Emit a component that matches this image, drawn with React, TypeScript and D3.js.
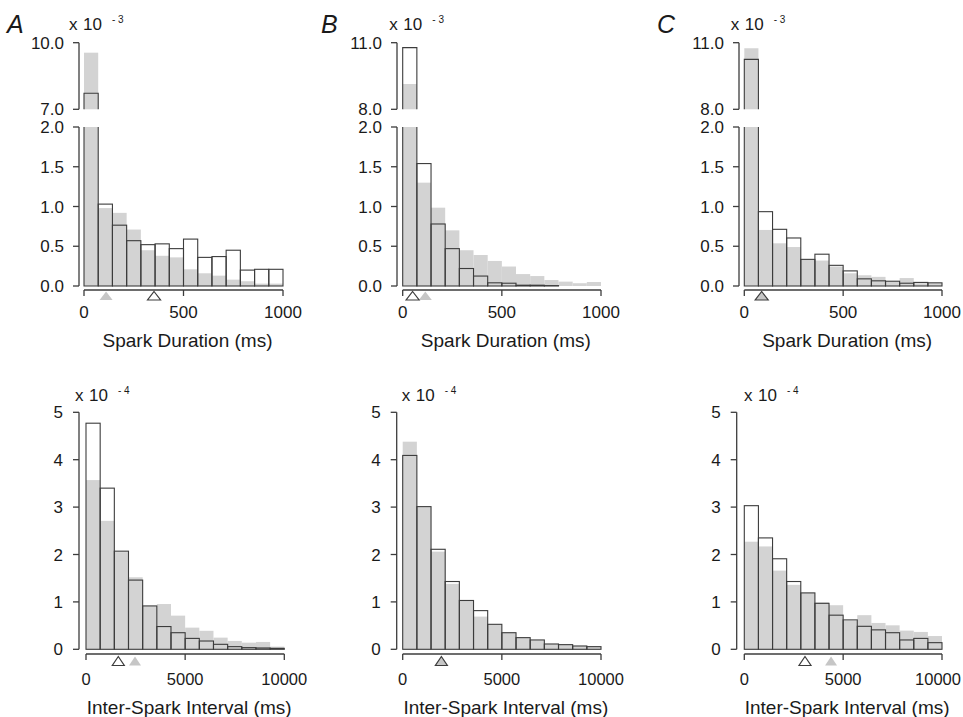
import React from "react";
import * as d3 from "d3";

// ---------- data ----------
const panelLetters = ["A", "B", "C"];
const binCount = 14;

// Spark duration histograms (x 10^-3), open = outlined bars, gray = filled bars
const durA_open = [7.72, 1.03, 0.765, 0.57, 0.52, 0.53, 0.47, 0.59, 0.36, 0.37, 0.45, 0.2, 0.21, 0.21];
const durA_gray = [9.55, 0.98, 0.92, 0.71, 0.45, 0.38, 0.36, 0.21, 0.16, 0.13, 0.08, 0.06, 0.03, 0.03];
const durB_open = [10.78, 1.54, 0.78, 0.47, 0.22, 0.125, 0.04, 0.035, 0.01, 0.01, 0.005, 0, 0, 0];
const durB_gray = [9.14, 1.3, 0.985, 0.7, 0.45, 0.39, 0.315, 0.245, 0.15, 0.125, 0.075, 0.055, 0.035, 0.05];
const durC_open = [10.25, 0.935, 0.713, 0.604, 0.335, 0.4, 0.26, 0.19, 0.09, 0.065, 0.06, 0.035, 0.045, 0.04];
const durC_gray = [10.75, 0.705, 0.537, 0.49, 0.33, 0.32, 0.245, 0.16, 0.135, 0.115, 0.055, 0.1, 0.035, 0.035];

// Inter-spark interval histograms (x 10^-4)
const isiA_open = [4.77, 3.4, 2.07, 1.46, 0.915, 0.48, 0.35, 0.23, 0.175, 0.105, 0.056, 0.035, 0.028, 0.02];
const isiA_gray = [3.57, 2.71, 2.05, 1.52, 0.91, 0.955, 0.71, 0.457, 0.39, 0.246, 0.176, 0.14, 0.155, 0.056];
const isiB_open = [4.09, 3.01, 2.11, 1.43, 1.03, 0.816, 0.527, 0.35, 0.246, 0.197, 0.112, 0.098, 0.07, 0.056];
const isiB_gray = [4.38, 3.0, 2.06, 1.38, 1.02, 0.69, 0.52, 0.35, 0.24, 0.19, 0.11, 0.1, 0.07, 0.05];
const isiC_open = [3.03, 2.35, 1.91, 1.43, 1.19, 0.97, 0.72, 0.62, 0.485, 0.41, 0.35, 0.197, 0.23, 0.14];
const isiC_gray = [2.27, 2.17, 1.66, 1.36, 1.19, 0.99, 0.93, 0.6, 0.72, 0.556, 0.506, 0.394, 0.366, 0.28];

// means (triangles)
const durMeanOpen = [352, 50, 88];
const durMeanGray = [111, 114, 88];
const isiMeanOpen = [1629, 1950, 3070];
const isiMeanGray = [2471, 1950, 4388];

// axis ticks
const durXTicks = [0, 500, 1000];
const isiXTicks = [0, 5000, 10000];
const durLowTicks = [0, 0.5, 1.0, 1.5, 2.0];
const durBreakLow = [7.0, 8.0, 8.0];
const durBreakHigh = [10.0, 11.0, 11.0];
const isiYTicks = [0, 1, 2, 3, 4, 5];

const durOpen = [durA_open, durB_open, durC_open];
const durGray = [durA_gray, durB_gray, durC_gray];
const isiOpen = [isiA_open, isiB_open, isiC_open];
const isiGray = [isiA_gray, isiB_gray, isiC_gray];

// ---------- layout ----------
const FONT = "'Liberation Sans', Arial, Helvetica, sans-serif";
const GRAY = "#d3d3d3";
const TRI_GRAY = "#c6c6c6";
const STROKE = "#3c3c3c";
const TEXT = "#1a1a1a";
const WIDTH = 963;

const topAxisX = [79, 397, 739];
const topX0 = [84, 402.7, 744.3];
const topX1 = [283, 601, 942];
const botAxisX = [79, 396.7, 736.7];
const botX0 = [86, 402.7, 744.3];
const botX1 = [284.3, 601, 942];
const topExpX = [69, 389.3, 730.7];
const botExpX = [75, 401.7, 744];
const letterX = [7, 321, 657];

function fmt1(v: number) {
  return v.toFixed(1);
}

function Triangle({ cx, apex, h, w, filled }: { cx: number; apex: number; h: number; w: number; filled: boolean }) {
  const p = `M${cx},${apex} L${cx + w / 2},${apex + h} L${cx - w / 2},${apex + h} Z`;
  return filled ? (
    <path d={p} fill={TRI_GRAY} stroke="none" />
  ) : (
    <path d={p} fill="none" stroke={STROKE} strokeWidth={1.2} />
  );
}

function Exponent({ x, y, exp }: { x: number; y: number; exp: string }) {
  return (
    <text x={x} y={y} fontFamily={FONT} fill={TEXT} fontSize={17}>
      <tspan x={x}>x</tspan>
      <tspan x={x + 14}>10</tspan>
      <tspan x={x + 43} dy={-7} fontSize={10}>{"- " + exp}</tspan>
    </text>
  );
}

function DurationPanel({ i }: { i: number }) {
  const x = d3.scaleLinear().domain([0, 1000]).range([topX0[i], topX1[i]]);
  const yLow = d3.scaleLinear().domain([0, 2]).range([286, 127]);
  const yHigh = d3.scaleLinear().domain([durBreakLow[i], durBreakHigh[i]]).range([109.3, 42.7]);
  const bw = 1000 / binCount;
  const ax = topAxisX[i];
  const lo = durBreakLow[i];

  const grayBars: React.ReactNode[] = [];
  const openBars: React.ReactNode[] = [];
  durGray[i].forEach((v, k) => {
    const xa = x(k * bw);
    const xb = x((k + 1) * bw);
    if (v <= 2) {
      grayBars.push(<rect key={"g" + k} x={xa} y={yLow(v)} width={xb - xa} height={yLow(0) - yLow(v)} fill={GRAY} />);
    } else {
      grayBars.push(<rect key={"g" + k} x={xa} y={yLow(2)} width={xb - xa} height={yLow(0) - yLow(2)} fill={GRAY} />);
      if (v > lo)
        grayBars.push(<rect key={"gh" + k} x={xa} y={yHigh(v)} width={xb - xa} height={yHigh(lo) - yHigh(v)} fill={GRAY} />);
    }
  });
  durOpen[i].forEach((v, k) => {
    const xa = x(k * bw);
    const xb = x((k + 1) * bw);
    if (v <= 2) {
      openBars.push(
        <rect key={"o" + k} x={xa} y={yLow(v)} width={xb - xa} height={yLow(0) - yLow(v)} fill="none" stroke={STROKE} strokeWidth={1.1} />
      );
    } else {
      openBars.push(
        <path key={"o" + k} d={`M${xa},${yLow(2)} V${yLow(0)} H${xb} V${yLow(2)}`} fill="none" stroke={STROKE} strokeWidth={1.1} />
      );
      if (v > lo)
        openBars.push(
          <path key={"oh" + k} d={`M${xa},${yHigh(lo)} V${yHigh(v)} H${xb} V${yHigh(lo)}`} fill="none" stroke={STROKE} strokeWidth={1.1} />
        );
    }
  });

  const axisY = 290;
  const midX = (topX0[i] + topX1[i]) / 2;
  return (
    <g>
      <text x={letterX[i]} y={33} fontFamily={FONT} fontStyle="italic" fontSize={25} fill={TEXT}>
        {panelLetters[i]}
      </text>
      <Exponent x={topExpX[i]} y={29.5} exp="3" />
      {grayBars}
      {openBars}
      <path d={`M${ax},${yLow(2)} V${yLow(0)}`} stroke={STROKE} strokeWidth={1.3} fill="none" />
      {durLowTicks.map((t) => (
        <g key={"yl" + t}>
          <line x1={ax - 6} x2={ax} y1={yLow(t)} y2={yLow(t)} stroke={STROKE} strokeWidth={1.3} />
          <text x={ax - 15} y={yLow(t)} dy="0.36em" textAnchor="end" fontFamily={FONT} fontSize={17} fill={TEXT}>
            {fmt1(t)}
          </text>
        </g>
      ))}
      <path d={`M${ax},${yHigh(durBreakHigh[i])} V${yHigh(lo)}`} stroke={STROKE} strokeWidth={1.3} fill="none" />
      {[lo, durBreakHigh[i]].map((t) => (
        <g key={"yh" + t}>
          <line x1={ax - 6} x2={ax} y1={yHigh(t)} y2={yHigh(t)} stroke={STROKE} strokeWidth={1.3} />
          <text x={ax - 15} y={yHigh(t)} dy="0.36em" textAnchor="end" fontFamily={FONT} fontSize={17} fill={TEXT}>
            {fmt1(t)}
          </text>
        </g>
      ))}
      <path d={`M${x(0)},${axisY} H${x(1000)}`} stroke={STROKE} strokeWidth={1.3} fill="none" />
      {durXTicks.map((t) => (
        <g key={"xt" + t}>
          <line x1={x(t)} x2={x(t)} y1={axisY} y2={axisY + 6} stroke={STROKE} strokeWidth={1.3} />
          <text x={Math.min(x(t), WIDTH - 20)} y={318} textAnchor="middle" fontFamily={FONT} fontSize={17} fill={TEXT}>
            {t}
          </text>
        </g>
      ))}
      <Triangle cx={x(durMeanGray[i])} apex={291.5} h={8.5} w={13} filled={true} />
      <Triangle cx={x(durMeanOpen[i])} apex={291.5} h={8.5} w={13} filled={false} />
      <text x={midX + 4} y={347} textAnchor="middle" fontFamily={FONT} fontSize={19} fill={TEXT}>
        Spark Duration (ms)
      </text>
    </g>
  );
}

function IsiPanel({ i }: { i: number }) {
  const x = d3.scaleLinear().domain([0, 10000]).range([botX0[i], botX1[i]]);
  const y = d3.scaleLinear().domain([0, 5]).range([649.3, 412.3]);
  const bw = 10000 / binCount;
  const ax = botAxisX[i];
  const axisY = 654;
  const midX = (botX0[i] + botX1[i]) / 2;
  return (
    <g>
      <Exponent x={botExpX[i]} y={401} exp="4" />
      {isiGray[i].map((v, k) => (
        <rect key={"g" + k} x={x(k * bw)} y={y(v)} width={x((k + 1) * bw) - x(k * bw)} height={y(0) - y(v)} fill={GRAY} />
      ))}
      {isiOpen[i].map((v, k) => (
        <rect
          key={"o" + k}
          x={x(k * bw)}
          y={y(v)}
          width={x((k + 1) * bw) - x(k * bw)}
          height={y(0) - y(v)}
          fill="none"
          stroke={STROKE}
          strokeWidth={1.1}
        />
      ))}
      <path d={`M${ax},${y(5)} V${y(0)}`} stroke={STROKE} strokeWidth={1.3} fill="none" />
      {isiYTicks.map((t) => (
        <g key={"y" + t}>
          <line x1={ax - 6} x2={ax} y1={y(t)} y2={y(t)} stroke={STROKE} strokeWidth={1.3} />
          <text x={ax - 16} y={y(t)} dy="0.36em" textAnchor="end" fontFamily={FONT} fontSize={17} fill={TEXT}>
            {t}
          </text>
        </g>
      ))}
      <path d={`M${x(0)},${axisY} H${x(10000)}`} stroke={STROKE} strokeWidth={1.3} fill="none" />
      {isiXTicks.map((t) => (
        <g key={"xt" + t}>
          <line x1={x(t)} x2={x(t)} y1={axisY} y2={axisY + 6} stroke={STROKE} strokeWidth={1.3} />
          <text x={Math.min(x(t), WIDTH - 25)} y={685} textAnchor="middle" fontFamily={FONT} fontSize={16.5} fill={TEXT}>
            {t}
          </text>
        </g>
      ))}
      <Triangle cx={x(isiMeanGray[i])} apex={656.5} h={9} w={12} filled={true} />
      <Triangle cx={x(isiMeanOpen[i])} apex={656.5} h={9} w={12} filled={false} />
      <text x={midX + 4} y={714} textAnchor="middle" fontFamily={FONT} fontSize={19} fill={TEXT}>
        Inter-Spark Interval (ms)
      </text>
    </g>
  );
}

export default function App() {
  return (
    <svg
      width={WIDTH}
      height={717}
      viewBox="0 0 963 717"
      style={{ position: "absolute", left: 0, top: 0, background: "#fff" }}
    >
      <rect x={0} y={0} width={963} height={717} fill="#fff" />
      {[0, 1, 2].map((i) => (
        <DurationPanel key={"d" + i} i={i} />
      ))}
      {[0, 1, 2].map((i) => (
        <IsiPanel key={"s" + i} i={i} />
      ))}
    </svg>
  );
}
